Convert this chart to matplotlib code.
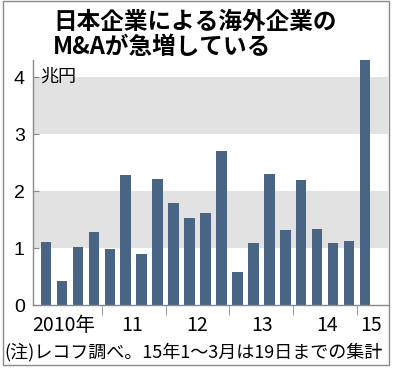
import numpy as np
import matplotlib
matplotlib.use('Agg')
from matplotlib import pyplot as plt
from matplotlib.patches import Rectangle

# quarterly overseas M&A by Japanese firms (trillion yen)
values = [1.11, 0.42, 1.01, 1.29,
          0.99, 2.29, 0.90, 2.21,
          1.79, 1.52, 1.61, 2.71,
          0.58, 1.09, 2.30, 1.32,
          2.20, 1.33, 1.08, 1.13,
          4.30]
year_labels = ['2010年', '11', '12', '13', '14', '15']
ytick_vals = [0, 1, 2, 3, 4]
title1 = '日本企業による海外企業の'
title2 = 'M&Aが急増している'
unit = '兆円'
note = '(注)レコフ調べ。15年1～3月は19日までの集計'

jp = ['Noto Sans CJK JP', 'DejaVu Sans']
num = ['Liberation Sans Narrow', 'Liberation Sans', 'Noto Sans CJK JP']
plt.rcParams['font.family'] = jp

bar_color = '#4a6483'
band_color = '#e2e2e2'
line_color = '#8a8a8a'

W, H = 395, 373
fig = plt.figure(figsize=(W / 100, H / 100), dpi=100)
ax = fig.add_axes([33 / W, 68 / H, 355 / W, 245 / H])

x = np.arange(len(values))
ax.axhspan(1, 2, color=band_color, lw=0, zorder=0)
ax.axhspan(3, 4, color=band_color, lw=0, zorder=0)
ax.bar(x, values, width=0.66, color=bar_color, zorder=2)

ax.set_xlim(-0.815, 21.44)
ax.set_ylim(0, 4.3)

for s in ['top', 'right']:
    ax.spines[s].set_visible(False)
for s in ['left', 'bottom']:
    ax.spines[s].set_color(line_color)
    ax.spines[s].set_linewidth(1.0)

ax.set_yticks(ytick_vals)
ax.set_yticklabels([str(v) for v in ytick_vals], family=num, fontsize=14)
ax.tick_params(axis='y', direction='in', length=4, color=line_color, pad=6)

label_pos = [1.13, 5.42, 9.5, 13.57, 17.6, 20.37]
ax.set_xticks(label_pos)
ax.set_xticklabels(year_labels, fontsize=14, family=num)
ax.set_xticks([3.5, 7.5, 11.5, 15.5, 19.5], minor=True)
ax.tick_params(axis='x', which='major', length=0, pad=7)
ax.tick_params(axis='x', which='minor', direction='out', length=7, color=line_color)
for lbl in ax.get_xticklabels():
    lbl.set_family(['Liberation Sans Narrow', 'Noto Sans CJK JP'])

ax.text(0.02, 4, unit, fontsize=13, va='center', ha='left',
        transform=ax.get_yaxis_transform(), zorder=3)

fig.text(53 / W, 1 - 22 / H, title1, fontsize=17, fontweight='bold', va='center', ha='left')
fig.text(53 / W, 1 - 47 / H, title2, fontsize=17, fontweight='bold', va='center', ha='left')
fig.text(4 / W, 1 - 352 / H, note, fontsize=13, va='center', ha='left')

fig.patches.append(Rectangle((3 / W, 1 - 365 / H), 386 / W, 364 / H,
                             transform=fig.transFigure, fill=False,
                             edgecolor=line_color, lw=1.0))

plt.savefig('out.png', dpi=100)
